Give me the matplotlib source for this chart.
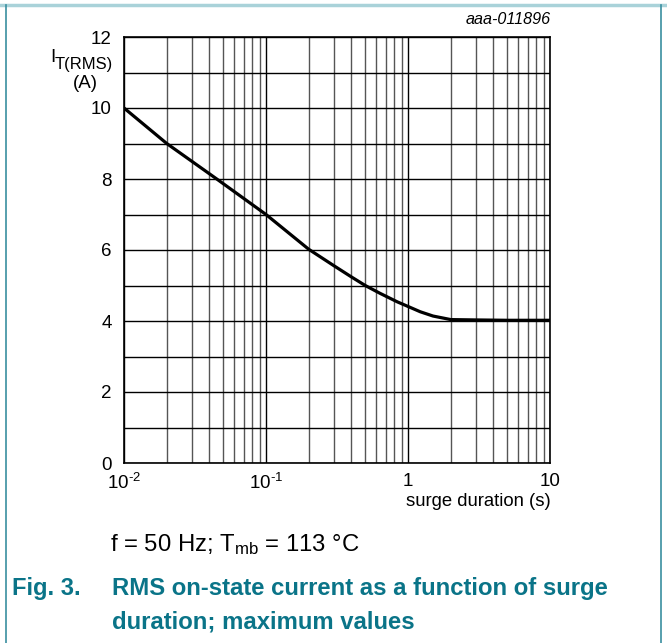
import matplotlib.pyplot as plt
from matplotlib.ticker import FixedLocator, NullFormatter

plt.rcParams['font.family'] = ['Liberation Sans', 'DejaVu Sans']
plt.rcParams['mathtext.fontset'] = 'custom'
plt.rcParams['mathtext.rm'] = 'Liberation Sans'
plt.rcParams['mathtext.it'] = 'Liberation Sans:italic'

# curve
duration = [0.01, 0.02, 0.045, 0.1, 0.2, 0.3, 0.4, 0.5, 0.635, 0.84, 1.0, 1.22, 1.5, 2.0, 3.0, 5.0, 10.0]
current = [10.0, 9.0, 8.0, 7.0, 6.02, 5.56, 5.24, 5.0, 4.78, 4.54, 4.41, 4.26, 4.14, 4.04, 4.03, 4.02, 4.02]

yticks = [0, 2, 4, 6, 8, 10, 12]
xticks = [0.01, 0.1, 1, 10]
xticklabels = ['10$^{\\text{-2}}$', '10$^{\\text{-1}}$', '1', '10']

teal = '#0a7488'

fig = plt.figure(figsize=(6.67, 6.43), dpi=100)
W, H = 667, 643
ax = fig.add_axes([124 / W, 1 - 463 / H, 426 / W, 426 / H])

ax.plot(duration, current, color='black', lw=2.3, solid_capstyle='butt', zorder=3)
ax.set_xscale('log')
ax.set_xlim(0.01, 10)
ax.set_ylim(0, 12)

# grid: every decade subdivision, every 1 A
minors = [m * 10.0 ** e for e in (-2, -1, 0) for m in range(2, 10)]
ax.xaxis.set_minor_locator(FixedLocator(minors))
ax.xaxis.set_minor_formatter(NullFormatter())
ax.set_xticks(xticks)
ax.set_xticklabels(xticklabels)
ax.set_yticks(yticks)
ax.yaxis.set_minor_locator(FixedLocator(range(13)))
ax.grid(True, which='major', color='black', lw=1.0)
ax.grid(True, which='minor', axis='x', color='#555555', lw=1.0)
ax.grid(True, which='minor', axis='y', color='black', lw=1.0)
ax.tick_params(which='both', length=0, labelsize=13.5)
ax.tick_params(axis='y', pad=9)
ax.tick_params(axis='x', pad=7)
for s in ax.spines.values():
    s.set_linewidth(1.2)

# y axis label, subscript kept large like the datasheet
fig.text(50 / W, 1 - 58 / H, 'I', ha='left', va='center', fontsize=13.5)
fig.text(55 / W, 1 - 64 / H, 'T(RMS)', ha='left', va='center', fontsize=12)
fig.text(85 / W, 1 - 84 / H, '(A)', ha='center', va='center', fontsize=13.5)
fig.text(551 / W, 1 - 502 / H, 'surge duration (s)', ha='right', va='center', fontsize=13.3)
fig.text(551 / W, 1 - 20 / H, 'aaa-011896', ha='right', va='center', fontsize=11.6, style='italic')

fig.text(110 / W, 1 - 545 / H, 'f = 50 Hz; T$_\\mathrm{mb}$ = 113 °C', ha='left', va='center', fontsize=17.2)
fig.text(12 / W, 1 - 589 / H, 'Fig. 3.', ha='left', va='center', fontsize=17, color=teal, weight='bold')
fig.text(112 / W, 1 - 589 / H, 'RMS on-state current as a function of surge', ha='left', va='center',
         fontsize=17.2, color=teal, weight='bold')
fig.text(112 / W, 1 - 622 / H, 'duration; maximum values', ha='left', va='center',
         fontsize=17.2, color=teal, weight='bold')

# page frame
fig.add_artist(plt.Line2D([0, 1], [1 - 5 / H, 1 - 5 / H], color='#a9d2d9', lw=2.5))
fig.add_artist(plt.Line2D([6 / W, 6 / W], [0, 1 - 5 / H], color='#3a8fa0', lw=1.2))
fig.add_artist(plt.Line2D([661 / W, 661 / W], [0, 1 - 5 / H], color='#3a8fa0', lw=1.2))

fig.savefig('out.png', dpi=100)
